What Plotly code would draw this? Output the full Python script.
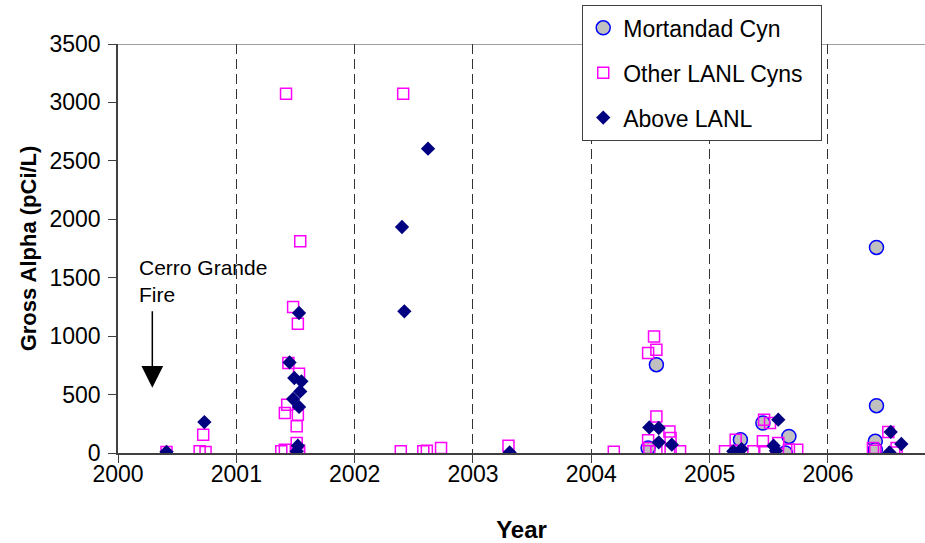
import plotly.graph_objects as go

# ---- data (decimal year, gross alpha pCi/L) ----
mort_x = [2004.55, 2004.48, 2005.26, 2005.45, 2005.67, 2005.64, 2006.41, 2006.41, 2006.40, 2006.40]
mort_y = [756, 43, 114, 257, 142, 0, 1759, 405, 100, 28]

other_x = [2000.41, 2000.72, 2000.69, 2000.74,
           2001.42, 2001.54, 2001.48, 2001.52, 2001.53, 2001.44, 2001.43, 2001.41, 2001.52,
           2001.51, 2001.41, 2001.53, 2001.51, 2001.38, 2001.53,
           2002.41, 2002.39, 2002.58, 2002.61, 2002.73,
           2003.30,
           2004.19, 2004.53, 2004.48, 2004.55, 2004.55, 2004.48, 2004.66, 2004.67, 2004.55,
           2004.67, 2004.75, 2004.49,
           2005.46, 2005.51, 2005.22, 2005.13, 2005.22, 2005.37, 2005.45, 2005.47, 2005.58,
           2005.67, 2005.74,
           2006.51, 2006.38, 2006.58, 2006.56, 2006.40]
other_y = [8, 157, 14, 8,
           3075, 1811, 1249, 1106, 679, 770, 413, 342, 328,
           228, 28, 22, 86, 14, 0,
           3075, 14, 14, 20, 43,
           62,
           10, 998, 856, 884, 313, 110, 185, 128, 14,
           14, 14, 43,
           285, 257, 114, 14, 14, 14, 100, 14, 86,
           28, 28,
           180, 43, 43, 5, 20]

above_x = [2000.41, 2000.73,
           2001.53, 2001.45, 2001.49, 2001.55, 2001.54, 2001.48, 2001.53, 2001.52, 2001.51,
           2002.62, 2002.40, 2002.42,
           2003.31,
           2004.49, 2004.57, 2004.57, 2004.68,
           2005.58, 2005.20, 2005.27, 2005.54, 2005.56,
           2006.53, 2006.62, 2006.52]
above_y = [10, 265,
           1198, 775, 642, 613, 527, 462, 394, 62, 14,
           2604, 1934, 1212,
           5,
           219, 214, 91, 71,
           285, 14, 34, 62, 20,
           180, 77, 5]

year_ticks = [2000, 2001, 2002, 2003, 2004, 2005, 2006]
y_ticks = [0, 500, 1000, 1500, 2000, 2500, 3000, 3500]

FONT = "Liberation Sans, Arial, sans-serif"
PAD = "\u00a0\u00a0"

fig = go.Figure()
fig.add_trace(go.Scatter(
    x=mort_x, y=mort_y, mode="markers", name="Mortandad Cyn", legendgroup="a",
    marker=dict(symbol="circle", size=14, color="#C0C0C0", line=dict(color="#0000FF", width=1.5))))
fig.add_trace(go.Scatter(
    x=other_x, y=other_y, mode="markers", name="Other LANL Cyns" + PAD, legendgroup="b",
    marker=dict(symbol="square-open", size=11, color="#FF00FF", line=dict(color="#FF00FF", width=1.5))))
fig.add_trace(go.Scatter(
    x=above_x, y=above_y, mode="markers", name="Above LANL", legendgroup="c",
    marker=dict(symbol="diamond", size=11, color="#000080", line=dict(color="#000080", width=0))))

fig.add_shape(type="line", xref="paper", yref="y", x0=0, x1=1, y0=3500, y1=3500,
              line=dict(color="#404040", width=1.2))

fig.add_annotation(x=2000.16, y=1474, xref="x", yref="y", text="Cerro Grande<br>Fire",
                   showarrow=False, xanchor="left", yanchor="middle", align="left",
                   font=dict(family=FONT, size=21, color="black"))
fig.add_annotation(x=2000.29, y=559, ax=2000.29, ay=1226, xref="x", yref="y",
                   axref="x", ayref="y", text="", showarrow=True,
                   arrowhead=2, arrowsize=2.9, arrowwidth=1.5, arrowcolor="black")

fig.update_layout(
    width=925, height=543,
    margin=dict(l=118, r=0, t=44, b=90),
    plot_bgcolor="white", paper_bgcolor="white",
    font=dict(family=FONT, size=23, color="black"),
    showlegend=True,
    legend=dict(x=0.575, y=1.095, xanchor="left", yanchor="top",
                bgcolor="white", bordercolor="#404040", borderwidth=1.2,
                font=dict(family=FONT, size=23, color="black"),
                traceorder="grouped", tracegroupgap=12),
    xaxis=dict(range=[2000, 2006.82], tickvals=year_ticks, ticktext=[str(t) for t in year_ticks],
               showgrid=True, gridcolor="#333333", griddash="10px,5px", gridwidth=1.2,
               showline=True, linecolor="#404040", linewidth=1.5,
               ticks="outside", ticklen=8, tickcolor="#404040",
               ticklabelstandoff=-8,
               zeroline=False,
               title=dict(text="<b>Year</b>", font=dict(family=FONT, size=24), standoff=40),
               tickfont=dict(family=FONT, size=23)),
    yaxis=dict(range=[0, 3500], tickvals=y_ticks, showgrid=False, zeroline=False,
               showline=True, linecolor="#404040", linewidth=1.5,
               ticks="outside", ticklen=8, tickcolor="#404040",
               ticklabelstandoff=3,
               title=dict(text="<b>Gross Alpha (pCi/L)</b>", font=dict(family=FONT, size=22), standoff=7),
               tickfont=dict(family=FONT, size=23)),
)

fig.write_html("out.html")
